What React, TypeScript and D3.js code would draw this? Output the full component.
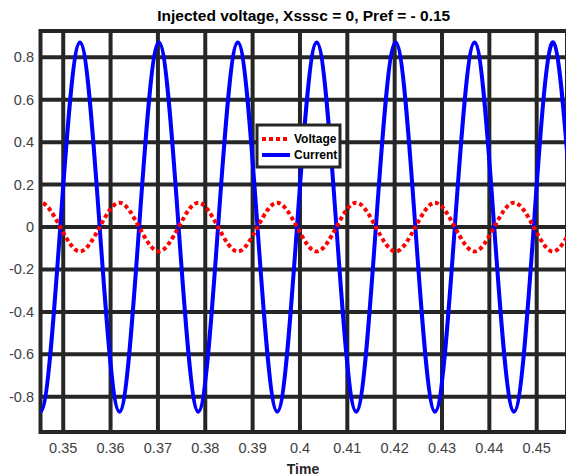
import React from "react";
import * as d3 from "d3";

const W = 566;
const H = 476;

const title = "Injected voltage, Xsssc = 0, Pref = - 0.15";
const xLabel = "Time";
const xTicks = [0.35, 0.36, 0.37, 0.38, 0.39, 0.4, 0.41, 0.42, 0.43, 0.44, 0.45];
const yTicks = [-0.8, -0.6, -0.4, -0.2, 0, 0.2, 0.4, 0.6, 0.8];
const xDomain = [0.3452, 0.4564];
const yDomain = [-0.966, 0.924];

// sample points read at quarter periods (peaks, troughs and zero crossings)
const times = [
  0.3410, 0.3452, 0.34937, 0.35353, 0.3577, 0.36187, 0.36603, 0.3702, 0.37437, 0.37853,
  0.3827, 0.38687, 0.39103, 0.3952, 0.39937, 0.40353, 0.4077, 0.41187, 0.41603, 0.4202,
  0.42437, 0.42853, 0.4327, 0.43687, 0.44103, 0.4452, 0.44937, 0.45353, 0.4577, 0.46187,
];
const current = [
  0, -0.87, 0, 0.87, 0, -0.87, 0, 0.87, 0, -0.87,
  0, 0.87, 0, -0.87, 0, 0.87, 0, -0.87, 0, 0.87,
  0, -0.87, 0, 0.87, 0, -0.87, 0, 0.87, 0, -0.87,
];
const voltage = [
  0, 0.115, 0, -0.115, 0, 0.115, 0, -0.115, 0, 0.115,
  0, -0.115, 0, 0.115, 0, -0.115, 0, 0.115, 0, -0.115,
  0, 0.115, 0, -0.115, 0, 0.115, 0, -0.115, 0, 0.115,
];
const legendLabels = ["Voltage", "Current"];

const GRID = "#262626";
const LABEL = "#404040";
const FONT = "'Liberation Sans', Arial, sans-serif";
const fmt = d3.formatLocale({ decimal: ".", thousands: ",", grouping: [3], currency: ["", ""], minus: "-" }).format("~g");

export default function App() {
  const left = 40.5, right = 567, top = 31, bottom = 432;
  const x = d3.scaleLinear().domain(xDomain).range([left, right]);
  const y = d3.scaleLinear().domain(yDomain).range([bottom, top]);
  const line = d3
    .line<number>()
    .x((_, i) => x(times[i]))
    .y((d) => y(d))
    .curve(d3.curveNatural);

  const lgX = 257, lgY = 125, lgW = 83, lgH = 42;

  return (
    <svg
      width={W}
      height={H}
      style={{ position: "absolute", left: 0, top: 0, background: "#fff" }}
      fontFamily={FONT}
    >
      <defs>
        <clipPath id="plotclip">
          <rect x={left} y={top} width={right - left} height={bottom - top} />
        </clipPath>
      </defs>
      <rect width={W} height={H} fill="#fff" />
      {/* grid */}
      {xTicks.map((t) => (
        <line key={"gx" + t} x1={x(t)} x2={x(t)} y1={top} y2={bottom} stroke={GRID} strokeWidth={4} />
      ))}
      {yTicks.map((t) => (
        <line key={"gy" + t} x1={left} x2={right} y1={y(t)} y2={y(t)} stroke={GRID} strokeWidth={4} />
      ))}
      {/* box */}
      <rect x={left} y={top} width={right - left} height={bottom - top} fill="none" stroke={GRID} strokeWidth={4} />
      {/* data */}
      <g clipPath="url(#plotclip)">
        <path d={line(current) || ""} fill="none" stroke="#0000ff" strokeWidth={4} />
        <path d={line(voltage) || ""} fill="none" stroke="#ff0000" strokeWidth={4} strokeDasharray="4 3" />
      </g>
      {/* tick labels */}
      {xTicks.map((t) => (
        <text key={"tx" + t} x={x(t)} y={453} textAnchor="middle" fontSize={14.5} fill={LABEL}>
          {fmt(t)}
        </text>
      ))}
      {yTicks.map((t) => (
        <text key={"ty" + t} x={34} y={y(t) + 5} textAnchor="end" fontSize={14.5} fill={LABEL}>
          {fmt(t)}
        </text>
      ))}
      <text x={(left + right) / 2} y={21} textAnchor="middle" fontSize={15.5} fontWeight="bold" fill="#000">
        {title}
      </text>
      <text x={303} y={474} textAnchor="middle" fontSize={14} fontWeight="bold" fill={GRID}>
        {xLabel}
      </text>
      {/* legend */}
      <rect x={lgX} y={lgY} width={lgW} height={lgH} fill="#fff" stroke={GRID} strokeWidth={3} />
      <line x1={262} x2={290} y1={139} y2={139} stroke="#ff0000" strokeWidth={4} strokeDasharray="4 3" />
      <line x1={262} x2={290} y1={155} y2={155} stroke="#0000ff" strokeWidth={4} />
      <text x={294} y={143} fontSize={12} fontWeight="bold" fill="#000">{legendLabels[0]}</text>
      <text x={294} y={159} fontSize={12} fontWeight="bold" fill="#000">{legendLabels[1]}</text>
    </svg>
  );
}
